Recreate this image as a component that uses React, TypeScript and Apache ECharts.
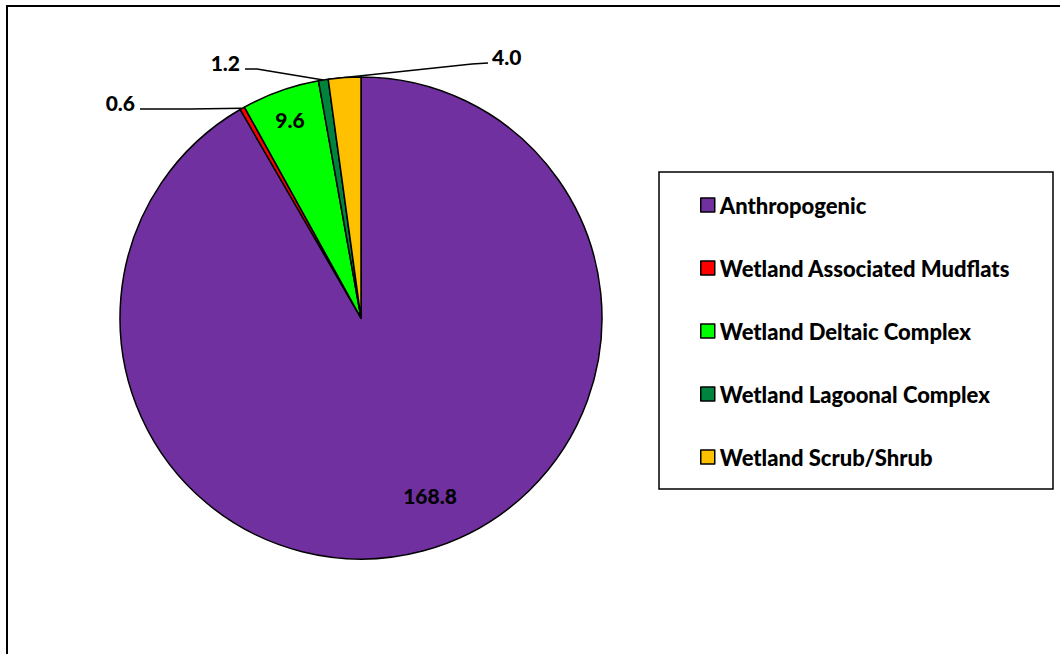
import React, { useEffect, useRef } from "react";
import * as echarts from "echarts";

// Land-cover areas
const categories = [
  "Anthropogenic",
  "Wetland Associated Mudflats",
  "Wetland Deltaic Complex",
  "Wetland Lagoonal Complex",
  "Wetland Scrub/Shrub",
];
const values = [168.8, 0.6, 9.6, 1.2, 4.0];
const colors = ["#7030A0", "#FF0000", "#00FF00", "#00843D", "#FFC000"];

// Pie geometry (pixels)
const CX = 361;
const CY = 318;
const R = 241;
const FONT = "Lato, 'Open Sans', sans-serif";
const LABEL_SIZE = 21;
const LEGEND_SIZE = 22;

// Value label placement: inside labels sit at a fixed point, outside labels
// get a leader line from the slice rim (arcFrac = position within the slice).
type Placement =
  | { kind: "inside"; x: number; y: number }
  | {
      kind: "outside";
      x: number;
      y: number;
      align: "left" | "right";
      arcFrac: number;
      bend: [number, number];
      end: [number, number];
    };

const placements: Placement[] = [
  { kind: "inside", x: 430, y: 495 },
  { kind: "outside", x: 135, y: 102, align: "right", arcFrac: 0.5, bend: [190, 109], end: [140, 109] },
  { kind: "inside", x: 290, y: 119 },
  { kind: "outside", x: 240, y: 62, align: "right", arcFrac: 0.5, bend: [257, 69], end: [245, 69] },
  { kind: "outside", x: 492, y: 56, align: "left", arcFrac: 0, bend: [472, 64], end: [488, 63] },
];

const total = values.reduce((a, b) => a + b, 0);

// Point on the pie rim, for a position inside slice i (clockwise from 12 o'clock).
function rimPoint(i: number, frac: number): [number, number] {
  const before = values.slice(0, i).reduce((a, b) => a + b, 0);
  const theta = ((before + frac * values[i]) / total) * Math.PI * 2;
  return [CX + R * Math.sin(theta), CY - R * Math.cos(theta)];
}

export default function App() {
  const ref = useRef<HTMLDivElement>(null);

  useEffect(() => {
    if (!ref.current) return;
    const chart = echarts.init(ref.current, null, { renderer: "svg" });

    const data = categories.map((name, i) => {
      const p = placements[i];
      return {
        name,
        value: values[i],
        itemStyle: { color: colors[i] },
        label: { position: p.kind === "inside" ? "inside" : "outside" },
        labelLine: { show: p.kind === "outside" },
      };
    });

    chart.setOption({
      animation: false,
      backgroundColor: "#ffffff",
      graphic: [
        {
          type: "rect",
          shape: { x: 7, y: 6, width: 1100, height: 700 },
          style: { fill: "none", stroke: "#000", lineWidth: 2 },
          silent: true,
        },
        {
          type: "rect",
          shape: { x: 659, y: 172, width: 394, height: 317 },
          style: { fill: "#fff", stroke: "#000", lineWidth: 1.5 },
          silent: true,
          z: -1,
        },
      ],
      legend: {
        orient: "vertical",
        left: 700,
        top: 194,
        padding: 0,
        itemWidth: 14,
        itemHeight: 14,
        itemGap: 41,
        icon: "rect",
        data: categories,
        textStyle: {
          fontFamily: FONT,
          fontSize: LEGEND_SIZE,
          fontWeight: 900,
          color: "#000",
          lineHeight: 22,
        },
        itemStyle: { borderColor: "#000", borderWidth: 1.5 },
      },
      series: [
        {
          type: "pie",
          center: [CX, CY],
          radius: R,
          startAngle: 90,
          clockwise: true,
          avoidLabelOverlap: false,
          itemStyle: { borderColor: "#000", borderWidth: 1.5 },
          emphasis: { disabled: true },
          label: {
            show: true,
            formatter: (p: any) => Number(p.value).toFixed(1),
            fontFamily: FONT,
            fontSize: LABEL_SIZE,
            fontWeight: 900,
            color: "#000",
          },
          labelLine: {
            show: true,
            length: 10,
            length2: 10,
            lineStyle: { color: "#000", width: 1.5 },
          },
          labelLayout: (params: any) => {
            const i = params.dataIndex;
            const p = placements[i];
            if (p.kind === "inside") {
              return { x: p.x, y: p.y, align: "center", verticalAlign: "middle" };
            }
            return {
              x: p.x,
              y: p.y,
              align: p.align,
              verticalAlign: "middle",
              labelLinePoints: [rimPoint(i, p.arcFrac), p.bend, p.end],
            };
          },
          data,
        },
      ],
    });

    return () => chart.dispose();
  }, []);

  return (
    <div
      ref={ref}
      style={{ position: "absolute", left: 0, top: 0, width: 1060, height: 654 }}
    />
  );
}
